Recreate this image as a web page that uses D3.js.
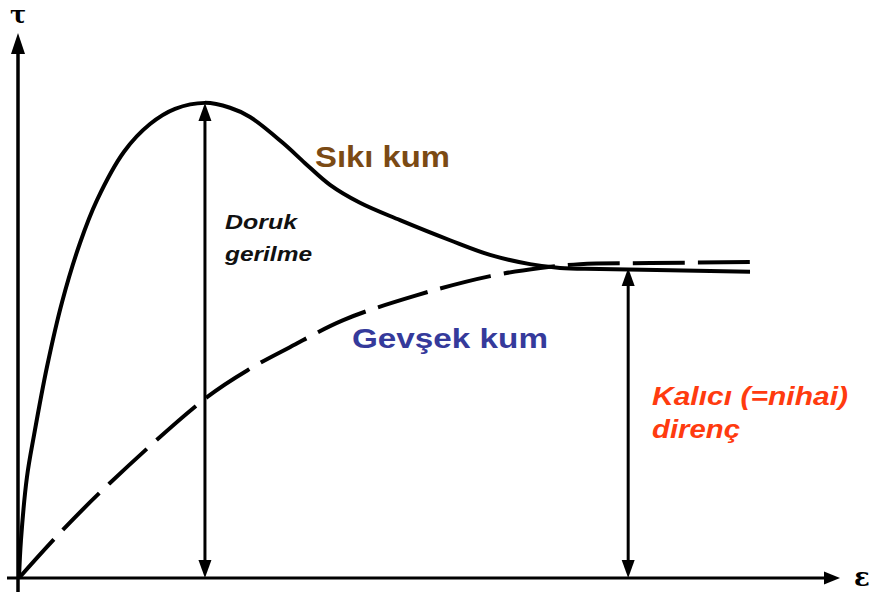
<!DOCTYPE html>
<html>
<head>
<meta charset="utf-8">
<script src="https://cdn.jsdelivr.net/npm/d3@7"></script>
<style>
  html, body { margin: 0; padding: 0; background: #fff; }
  svg { display: block; }
</style>
</head>
<body>
<svg id="chart" width="875" height="592"></svg>
<script>
// Strain (ε) and shear stress (τ) in relative units
const denseStrain = [0, 0.24, 0.97, 1.83, 3.41, 5.24, 7.43, 9.5, 12.79, 15.96, 19.01, 22.65, 25.7, 28.14, 32.16, 34.84, 37.88, 41.53, 46.41, 52.5, 57.37, 62.24, 65.9, 70.77, 89.04];
const denseStress = [0, 7.0, 18.6, 26.3, 38.9, 50.8, 61.7, 69.6, 78.5, 83.6, 86.4, 87.5, 86.6, 84.9, 80.1, 76.4, 72.4, 69.1, 65.9, 62.2, 59.5, 57.8, 57.1, 56.9, 56.4];

const looseStrain = [0, 4.99, 11.08, 22.9, 28.1, 33.0, 39.5, 48.5, 57.4, 63.5, 68.3, 76.9, 89.4];
const looseStress = [0, 8.3, 17.5, 33.3, 38.5, 42.5, 47.5, 52.1, 55.6, 57.1, 57.8, 58.0, 58.2];

// Peak stress of dense sand and residual (ultimate) strength
const peakStrain = 22.65, peakStress = 87.5;
const residualStrain = 74.2, residualStress = 57.1;

const labels = {
  dense: "Sıkı kum",
  loose: "Gevşek kum",
  peak: ["Doruk", "gerilme"],
  residual: ["Kalıcı (=nihai)", "direnç"],
  xAxis: "ε",
  yAxis: "τ"
};

const svg = d3.select("#chart");
const x = d3.scaleLinear().domain([0, 100]).range([19, 840]);
const y = d3.scaleLinear().domain([0, 100]).range([578, 35]);

const ink = "#000";

// Filled arrow tip pointing up, down or right
function head(tx, ty, dir, w, h) {
  let pts;
  if (dir === "up") pts = [[tx, ty], [tx - w / 2, ty + h], [tx + w / 2, ty + h]];
  else if (dir === "down") pts = [[tx, ty], [tx - w / 2, ty - h], [tx + w / 2, ty - h]];
  else pts = [[tx, ty], [tx - h, ty - w / 2], [tx - h, ty + w / 2]];
  svg.append("path").attr("d", d3.line()(pts) + "Z").attr("fill", ink);
}

const x0 = x(0), y0 = y(0);
const xEnd = x.range()[1], yTop = y.range()[1] - 2;

// Axes
svg.append("line")
  .attr("x1", x0 - 12).attr("x2", xEnd - 10)
  .attr("y1", y0).attr("y2", y0)
  .attr("stroke", ink).attr("stroke-width", 3);
head(xEnd, y0, "right", 13, 16);

svg.append("line")
  .attr("x1", x0 - 1).attr("x2", x0 - 1)
  .attr("y1", y0 + 14).attr("y2", yTop + 14)
  .attr("stroke", ink).attr("stroke-width", 3.5);
head(x0 - 1, yTop, "up", 14, 21);

svg.append("text")
  .attr("x", x0 - 1).attr("y", 23)
  .attr("text-anchor", "middle")
  .attr("font-family", "'DejaVu Serif', 'Liberation Serif', serif")
  .attr("font-weight", "bold").attr("font-size", 24)
  .attr("fill", ink).text(labels.yAxis);

svg.append("text")
  .attr("x", 862).attr("y", 586)
  .attr("text-anchor", "middle")
  .attr("font-family", "'DejaVu Serif', 'Liberation Serif', serif")
  .attr("font-weight", "bold").attr("font-size", 26)
  .attr("fill", ink).text(labels.xAxis);

// Stress–strain curves
const line = d3.line()
  .x(d => x(d[0])).y(d => y(d[1]))
  .curve(d3.curveCatmullRom.alpha(0.5));

const dense = denseStrain.map((s, i) => [s, denseStress[i]]);
const loose = looseStrain.map((s, i) => [s, looseStress[i]]);

svg.append("path")
  .attr("d", line(loose))
  .attr("fill", "none").attr("stroke", ink)
  .attr("stroke-width", 4)
  .attr("stroke-dasharray", "52,13");

svg.append("path")
  .attr("d", line(dense))
  .attr("fill", "none").attr("stroke", ink)
  .attr("stroke-width", 4);

// Double-headed dimension arrows
function dimArrow(strain, stress) {
  const px = x(strain), top = y(stress), bottom = y(0);
  const hl = 18, hw = 13;
  svg.append("line")
    .attr("x1", px).attr("x2", px)
    .attr("y1", top + hl - 2).attr("y2", bottom - hl + 2)
    .attr("stroke", ink).attr("stroke-width", 3);
  head(px, top, "up", hw, hl);
  head(px, bottom, "down", hw, hl);
}
dimArrow(peakStrain, peakStress);
dimArrow(residualStrain, residualStress);

// Annotations
function label(txt, px, py, opts) {
  svg.append("text")
    .attr("x", px).attr("y", py)
    .attr("font-family", "'Liberation Sans', Arial, sans-serif")
    .attr("font-weight", "bold")
    .attr("font-style", opts.italic ? "italic" : "normal")
    .attr("font-size", opts.size)
    .attr("fill", opts.color)
    .attr("textLength", opts.len)
    .attr("lengthAdjust", "spacingAndGlyphs")
    .text(txt);
}

label(labels.dense, 315, 167, { size: 30, color: "#7b4a14", len: 135 });
label(labels.loose, 352, 348, { size: 28, color: "#353a9b", len: 196 });
label(labels.peak[0], 225, 229, { size: 21, color: "#111", italic: true, len: 72 });
label(labels.peak[1], 225, 261, { size: 21, color: "#111", italic: true, len: 87 });
label(labels.residual[0], 652, 405, { size: 25, color: "#ff3b0f", italic: true, len: 196 });
label(labels.residual[1], 652, 438, { size: 25, color: "#ff3b0f", italic: true, len: 88 });
</script>
</body>
</html>
